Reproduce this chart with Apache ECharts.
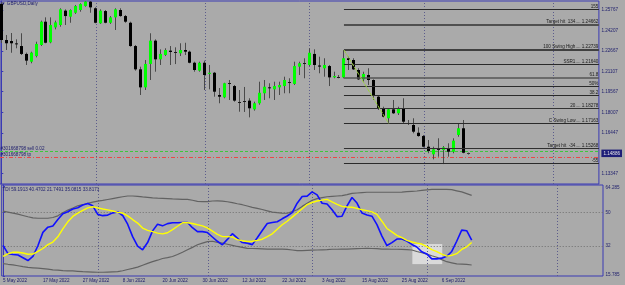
<!DOCTYPE html>
<html><head><meta charset="utf-8">
<script src="https://cdn.jsdelivr.net/npm/echarts@6/dist/echarts.min.js"></script>
<style>html,body{margin:0;padding:0;background:#aaaaaa;}#c{width:625px;height:285px;}</style>
</head><body><div id="c"></div>
<script>
// ---------- data ----------
const symbolLabel = '\u25BC GBPUSD,Daily';
const indicatorLabel = 'TDI 59.1913 40.4702 21.7491 35.0815 33.8171';
const dateLabels = ['5 May 2022','17 May 2022','27 May 2022','8 Jun 2022','20 Jun 2022','30 Jun 2022','12 Jul 2022','22 Jul 2022','3 Aug 2022','15 Aug 2022','25 Aug 2022','6 Sep 2022'];
const dateLabelBars = [0,8,16,24,32,40,48,56,64,72,80,88];
const monthGridBars = [19.1,41.1,62.1,85.1,111.2];
const priceTicks = [1.25767,1.24207,1.22667,1.21107,1.19567,1.18007,1.16447,1.14886,1.13347];
const currentPrice = 1.14886;
const tdiTicks = [64.285,50,32,15.785];
const tdiLevels = [50,32];

const opens = [1.2624,1.2350,1.2342,1.2324,1.2304,1.2244,1.2185,1.2228,1.2312,1.2489,
1.2332,1.2446,1.2464,1.2573,1.2527,1.2557,1.2578,1.2608,1.2641,1.2591,
1.2477,1.2570,1.2481,1.2522,1.2578,1.2532,1.2481,1.2304,1.2127,1.1990,
1.2168,1.2345,1.2203,1.2236,1.2269,1.2260,1.2249,1.2274,1.2261,1.2177,
1.2117,1.2177,1.2092,1.2101,1.1932,1.1914,1.2025,1.2000,1.1881,1.1889,
1.1889,1.1823,1.1869,1.1945,1.1990,1.1975,1.1990,1.2000,1.2033,1.2016,
1.2147,1.2173,1.2160,1.2244,1.2156,1.2135,1.2152,1.2066,1.2071,1.2066,
1.2211,1.2198,1.2122,1.2051,1.2084,1.2046,1.1919,1.1831,1.1755,1.1823,
1.1793,1.1831,1.1717,1.1704,1.1645,1.1620,1.1539,1.1481,1.1519,1.1514,
1.1527,1.1501,1.1628,1.1679,1.1484];
const closes = [1.2350,1.2325,1.2325,1.2317,1.2244,1.2193,1.2254,1.2320,1.2489,1.2329,
1.2464,1.2484,1.2583,1.2532,1.2578,1.2608,1.2623,1.2642,1.2598,1.2481,
1.2573,1.2481,1.2522,1.2583,1.2532,1.2489,1.2304,1.2127,1.1990,1.2168,
1.2345,1.2203,1.2244,1.2274,1.2259,1.2260,1.2274,1.2261,1.2177,1.2122,
1.2177,1.2084,1.2101,1.1957,1.1919,1.2021,1.2025,1.1889,1.1881,1.1889,
1.1831,1.1869,1.1949,1.1995,1.1983,1.2000,1.2008,1.2046,1.2029,1.2152,
1.2173,1.2173,1.2253,1.2160,1.2148,1.2160,1.2066,1.2076,1.2071,1.2211,
1.2198,1.2127,1.2051,1.2092,1.2046,1.1932,1.1831,1.1767,1.1823,1.1793,
1.1831,1.1729,1.1717,1.1653,1.1620,1.1539,1.1506,1.1519,1.1519,1.1534,
1.1501,1.1585,1.1679,1.1493,1.14886];
const lows = [1.2327,1.2274,1.2253,1.2287,1.2236,1.2160,1.2173,1.2218,1.2304,1.2325,
1.2325,1.2431,1.2451,1.2464,1.2481,1.2548,1.2565,1.2603,1.2557,1.2477,
1.2472,1.2477,1.2472,1.2426,1.2527,1.2481,1.2299,1.2117,1.1932,1.1970,
1.2046,1.2109,1.2160,1.2228,1.2160,1.2167,1.2228,1.2236,1.2173,1.2109,
1.2109,1.1970,1.1975,1.1919,1.1869,1.1907,1.1894,1.1881,1.1805,1.1803,
1.1762,1.1813,1.1858,1.1894,1.1907,1.1894,1.1932,1.1945,1.1945,1.2008,
1.2084,1.2059,1.2152,1.2122,1.2097,1.2071,1.2000,1.2059,1.2059,1.2059,
1.2122,1.2122,1.2046,1.2033,1.2008,1.1894,1.1818,1.1762,1.17163,1.1788,
1.1780,1.1717,1.1704,1.1641,1.1615,1.1534,1.1489,1.1443,1.1463,1.1407,
1.1463,1.1489,1.1615,1.1489,1.1479];
const highs = [1.2636,1.2388,1.2403,1.2355,1.2401,1.2254,1.2261,1.2337,1.2497,1.2522,
1.2522,1.2497,1.2591,1.2583,1.2583,1.2616,1.2629,1.2666,1.2666,1.2598,
1.2583,1.2578,1.2532,1.2591,1.2591,1.2540,1.2489,1.2312,1.2147,1.2198,
1.2401,1.2355,1.2279,1.2287,1.2304,1.2294,1.2325,1.2329,1.2269,1.2185,
1.2185,1.2193,1.2160,1.2107,1.1985,1.2025,1.2046,1.2008,1.1970,1.1993,
1.1907,1.1881,1.2033,1.2046,1.2021,1.2033,1.2033,1.2071,1.2059,1.2185,
1.2185,1.2211,1.2287,1.2279,1.2223,1.2211,1.2160,1.2109,1.2084,1.22739,
1.2223,1.2211,1.2135,1.2109,1.2135,1.2051,1.1932,1.1843,1.1831,1.1894,
1.1843,1.1907,1.1742,1.1755,1.1686,1.1628,1.1590,1.1539,1.1603,1.1544,
1.1565,1.1603,1.1717,1.1742,1.1494];

const fibLevels = [1.25806,1.24662,1.22739,1.21640,1.20609,1.19951,1.19293,1.18278,1.17163,1.15268,1.14096];
const fibLabels = ['155','Target hit  134.... 1.24662','100 Swing High.... 1.22739','SSR1.... 1.21640','61.8','50%','38.2','20.... 1.18278','C Swing Low.... 1.17163','Target hit  -34.... 1.15268','-55'];
const fibStartBar = 69;
const swingLine = [[69,1.22739],[78,1.17163]];
const orderTicket = '#301668798';
const sellPrice = 1.1501;
const sellLabel = orderTicket + ' sell 0.02';
const tpPrice = 1.14584;
const tpLabel = orderTicket + ' tp';

const rsiLine = [32.3,27.8,27.4,27.1,25.6,24.1,26.4,32.1,39.3,42.1,
42.7,46.2,49.3,50.4,51.9,52.6,54.0,54.8,53.6,49.0,
48.3,48.6,49.8,50.3,48.4,43.7,37.0,31.9,29.9,33.8,
40.1,43.7,42.8,44.0,44.5,44.5,44.6,44.6,41.8,39.7,
39.7,39.2,36.8,34.5,32.6,35.5,38.6,36.2,33.8,33.5,
32.7,36.4,40.3,44.1,44.6,45.0,46.6,48.1,49.9,55.0,
58.6,58.8,61.1,59.5,55.0,54.6,51.5,47.8,48.0,53.6,
58.1,55.1,49.7,48.7,48.0,43.5,37.3,32.2,33.8,35.7,
35.7,34.6,32.8,31.4,28.8,27.7,25.0,25.0,25.4,26.4,
29.0,34.5,40.5,40.2,35.1];
const signalLine = [26.3,27.7,28.6,28.6,28.2,27.5,27.6,29.0,30.6,32.7,
34.1,36.9,41.2,45.0,47.9,49.7,51.2,52.5,53.1,52.5,
51.9,51.4,50.8,50.1,49.7,48.2,46.2,44.3,41.6,40.4,
39.7,38.9,38.5,39.1,40.8,42.6,44.5,44.5,44.1,43.4,
42.8,41.7,40.0,38.2,37.0,37.0,36.8,35.4,34.8,34.4,
34.5,35.0,35.6,37.0,38.5,41.0,43.4,45.3,47.5,49.7,
52.0,54.3,55.4,56.2,56.7,57.1,55.7,54.4,53.3,53.0,
52.8,52.2,51.5,51.0,50.3,49.0,45.3,41.4,39.6,37.7,
36.4,35.0,34.1,33.5,33.0,31.6,30.0,28.9,27.6,26.5,
26.9,27.8,30.1,31.5,33.8];
const upperBand = [50.7,50.2,49.7,49.1,48.4,47.7,47.1,46.9,46.9,46.9,
47.3,48.2,49.9,51.3,52.4,53.6,54.2,54.9,55.6,56.1,
56.5,57.0,57.5,58.0,58.5,58.9,58.9,58.7,58.4,58.2,
57.9,57.7,57.6,57.5,57.3,57.2,57.1,57.1,56.6,56.0,
55.9,55.9,56.2,56.3,56.1,55.8,55.3,54.7,54.2,53.5,
52.8,52.2,51.6,50.9,50.2,49.9,49.7,49.6,50.5,51.5,
53.3,55.0,56.6,57.5,58.0,58.5,58.7,58.9,59.1,59.6,
60.3,60.5,60.7,60.9,60.9,60.9,60.9,60.9,60.9,60.9,
61.0,61.2,61.4,61.6,61.9,62.2,62.5,62.5,62.5,62.5,
62.3,61.7,61.1,60.2,59.2];
const lowerBand = [22.5,22.1,21.8,21.3,20.8,20.4,20.2,20.0,19.8,19.5,
19.1,18.9,18.7,18.6,18.5,18.3,18.1,18.0,17.9,17.8,
17.8,17.9,18.0,18.1,18.6,19.3,19.9,20.6,21.6,22.6,
23.5,24.3,25.2,25.7,26.3,27.4,28.6,29.9,31.2,32.6,
33.5,34.3,34.5,33.9,33.5,32.9,32.3,31.7,31.2,30.7,
30.6,30.5,30.4,30.3,30.3,30.3,30.3,30.1,29.8,29.5,
29.5,29.6,29.7,29.8,29.9,30.0,30.2,30.2,30.3,30.3,
30.4,30.5,30.6,30.7,30.6,30.5,30.3,30.3,30.2,30.2,
30.1,30.0,29.8,29.0,28.3,27.6,26.7,25.9,24.6,23.5,
22.9,22.3,22.2,22.0,21.7];
const highlightBox = {bars:[82.1,88.1], values:[33.0,22.2]};

// ---------- styles ----------
const FONT = 'Liberation Sans';
const FS = 4.6;
const FRAME = '#3a3ab4';
const NAVY = '#22226e';
const WICK = '#4a4a4a';
const X_MIN = -0.26, X_MAX = 120.34;
const fibWidths = [1,2,2,1,1.5,1,1,1,1,1,1];
const fibColors = ['#2a2a2a','#505050','#404040','#2a2a2a','#555555','#2a2a2a','#2a2a2a','#333333','#2a2a2a','#303030','#2a2a2a'];

const candleData = opens.map((o,i)=>[i,o,closes[i],lows[i],highs[i]]);
const toXY = arr => arr.map((v,i)=>[i,v]);

function renderCandle(params, api){
  const i = api.value(0), o = api.value(1), c = api.value(2), l = api.value(3), h = api.value(4);
  const pO = api.coord([i,o]), pC = api.coord([i,c]), pL = api.coord([i,l]), pH = api.coord([i,h]);
  const cx = Math.floor(pO[0]) + 0.5;
  const top = Math.min(pO[1],pC[1]), bot = Math.max(pO[1],pC[1]);
  const ch = [{type:'line', shape:{x1:cx,y1:pH[1],x2:cx,y2:pL[1]}, style:{stroke:WICK,lineWidth:1}}];
  if (bot - top < 0.9){
    const yy = Math.round(top)+0.5;
    ch.push({type:'line', shape:{x1:cx-1.5,y1:yy,x2:cx+1.5,y2:yy}, style:{stroke: c>o?'#3a3a3a':'#1a1a1a',lineWidth:1}});
  } else {
    ch.push({type:'rect', shape:{x:cx-1.5,y:top,width:3,height:bot-top}, style:{fill: c>o?'#00ff00':'#000000'}});
  }
  return {type:'group', children:ch};
}

const lblBase = {fontFamily:FONT,fontSize:FS};
const hLine = (v, name, lineStyle, label) => [
  {coord:[X_MIN,v], name:name, lineStyle:lineStyle, label:label},
  {coord:[X_MAX,v]}
];

const option = {
  backgroundColor:'#aaaaaa',
  animation:false,
  title:[
    {text:symbolLabel,left:1,top:1.5,padding:0,textStyle:Object.assign({color:NAVY,fontWeight:'normal'},lblBase)},
    {text:indicatorLabel,left:2.5,top:187,padding:0,textStyle:Object.assign({color:NAVY,fontWeight:'normal'},lblBase)}
  ],
  grid:[
    {left:0,top:1,width:603,height:183,show:true,borderColor:FRAME,borderWidth:1,backgroundColor:'transparent'},
    {left:0,top:185,width:603,height:91,show:true,borderColor:FRAME,borderWidth:1,backgroundColor:'transparent'}
  ],
  xAxis:[
    {type:'value',gridIndex:0,min:X_MIN,max:X_MAX,show:false},
    {type:'value',gridIndex:1,min:X_MIN,max:X_MAX,
      axisLine:{show:false},axisTick:{show:false},splitLine:{show:false},
      axisLabel:Object.assign({customValues:dateLabelBars,align:'left',margin:2.5,color:NAVY,
        formatter:v=>{const k=dateLabelBars.indexOf(Math.round(v));return k>=0?dateLabels[k]:'';}},lblBase)}
  ],
  yAxis:[
    {type:'value',gridIndex:0,position:'right',min:1.12555,max:1.26463,
      axisLine:{show:true,lineStyle:{color:FRAME,width:1}},
      axisTick:{show:true,customValues:priceTicks,length:2,lineStyle:{color:FRAME}},
      splitLine:{show:false},
      axisLabel:Object.assign({customValues:priceTicks,margin:2.5,color:NAVY,
        formatter:v=>Math.abs(v-currentPrice)<1e-7?'{hl|'+v.toFixed(5)+'}':v.toFixed(5),
        rich:{hl:{backgroundColor:'#1e1e78',color:'#e6e6e6',fontFamily:FONT,fontSize:FS,padding:[1.5,2,1,2]}}},lblBase)},
    {type:'value',gridIndex:1,position:'right',min:15.785,max:64.82,
      axisLine:{show:true,lineStyle:{color:FRAME,width:1}},
      axisTick:{show:true,customValues:tdiTicks,length:2,lineStyle:{color:FRAME}},
      splitLine:{show:false},
      axisLabel:Object.assign({customValues:tdiTicks,margin:2.5,color:NAVY,
        formatter:v=>v===tdiTicks[0]?'{t|'+v+'}':(v===tdiTicks[3]?'{b|'+v+'}':String(v)),
        rich:{t:{fontFamily:FONT,fontSize:FS,color:NAVY,padding:[4,0,0,0]},b:{fontFamily:FONT,fontSize:FS,color:NAVY,padding:[0,0,3,0]}}},lblBase)}
  ],
  series:[
    {type:'line',xAxisIndex:0,yAxisIndex:0,data:[],silent:true,z:1,
      markLine:{silent:true,symbol:'none',z:1,label:{show:false},
        lineStyle:{color:'#5c5c8c',width:1,type:[1,2]},
        data:monthGridBars.map(b=>({xAxis:b}))}},
    {type:'line',xAxisIndex:1,yAxisIndex:1,data:[],silent:true,z:1,
      markLine:{silent:true,symbol:'none',z:1,label:{show:false},
        lineStyle:{color:'#5c5c8c',width:1,type:[1,2]},
        data:monthGridBars.map(b=>({xAxis:b})).concat(tdiLevels.map(v=>({yAxis:v,lineStyle:{color:'#6e6e6e',type:[1,2]}})))},
      markArea:{silent:true,z:1,itemStyle:{color:'#dadada'},
        data:[[{coord:[highlightBox.bars[0],highlightBox.values[0]]},{coord:[highlightBox.bars[1],highlightBox.values[1]]}]]}},
    {type:'line',xAxisIndex:0,yAxisIndex:0,data:[],silent:true,z:2,
      markLine:{silent:true,symbol:'none',z:2,
        data:[
          hLine(sellPrice, sellLabel, {color:'#3cc83c',width:1,type:[3,2],opacity:1},
            Object.assign({show:true,position:'insideStartTop',distance:0.5,color:NAVY,formatter:'{b}'},lblBase)),
          hLine(tpPrice, tpLabel, {color:'#e84848',width:1,type:[4,2,1,2],opacity:1},
            Object.assign({show:true,position:'insideStartTop',distance:0.5,color:NAVY,formatter:'{b}'},lblBase))
        ]}},
    {type:'custom',xAxisIndex:0,yAxisIndex:0,renderItem:renderCandle,data:candleData,
      encode:{x:0,y:[1,2,3,4]},clip:true,z:3,silent:true},
    {type:'line',xAxisIndex:0,yAxisIndex:0,data:[],silent:true,z:4,
      markLine:{silent:true,symbol:'none',z:4,
        data:fibLevels.map((v,k)=>[
          {coord:[fibStartBar,v],name:fibLabels[k],lineStyle:{color:fibColors[k],width:fibWidths[k],type:'solid'},
            label:Object.assign({show:true,position:'insideEndTop',distance:0.5,color:'#1c1c1c',formatter:'{b}'},lblBase)},
          {coord:[X_MAX,v]}])}},
    {type:'line',xAxisIndex:0,yAxisIndex:0,data:swingLine,showSymbol:false,symbol:'none',z:4,silent:true,
      lineStyle:{color:'#9ad23c',width:1,type:[4,1]}},
    {type:'line',xAxisIndex:1,yAxisIndex:1,data:toXY(upperBand),showSymbol:false,symbol:'none',z:2,silent:true,
      lineStyle:{color:'#626262',width:1.2}},
    {type:'line',xAxisIndex:1,yAxisIndex:1,data:toXY(lowerBand),showSymbol:false,symbol:'none',z:2,silent:true,
      lineStyle:{color:'#626262',width:1.2}},
    {type:'line',xAxisIndex:1,yAxisIndex:1,data:toXY(rsiLine),showSymbol:false,symbol:'none',z:3,silent:true,
      lineStyle:{color:'#1010ff',width:1.6}},
    {type:'line',xAxisIndex:1,yAxisIndex:1,data:toXY(signalLine),showSymbol:false,symbol:'none',z:4,silent:true,
      lineStyle:{color:'#ffff00',width:1.4}}
  ]
};
const chart = echarts.init(document.getElementById('c'),null,{renderer:'canvas'});
chart.setOption(option);
</script></body></html>
